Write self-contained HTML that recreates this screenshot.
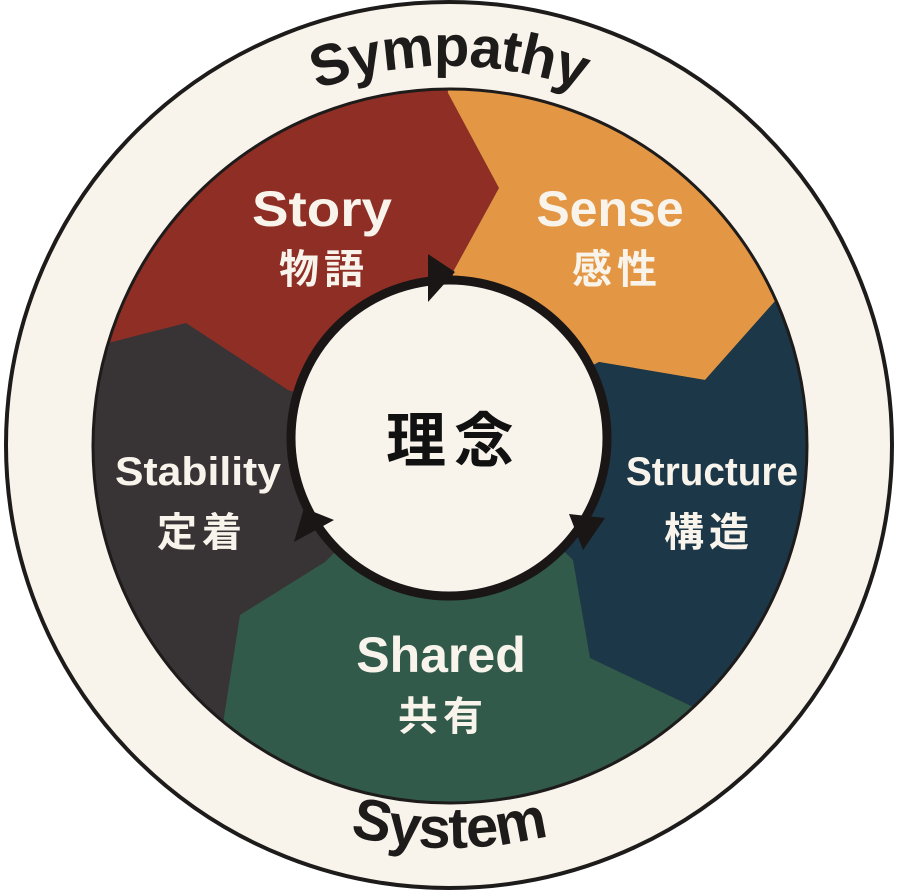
<!DOCTYPE html>
<html><head><meta charset="utf-8"><style>
html,body{margin:0;padding:0;background:#fff;}
svg{display:block;}
</style></head><body>
<svg width="899" height="891" viewBox="0 0 899 891" xmlns="http://www.w3.org/2000/svg">
<defs>
<clipPath id="disk"><circle cx="450" cy="446" r="357"/></clipPath>
<path id="topArc" d="M 69 446 A 380 380 0 0 1 829 446"/>
<path id="botArc" d="M 47 446 A 402 402 0 0 0 851 446"/>
</defs>
<circle cx="449" cy="445" r="443" fill="#f8f4ec" stroke="#1e1b1b" stroke-width="4"/>
<g clip-path="url(#disk)">
<rect x="0" y="0" width="899" height="891" fill="#383335"/>
<polygon fill="#8f2e25" points="450,440 453,272 499,188 448,93 440,-10 -10,-10 -10,365 108,343 186,323 288,390"/>
<polygon fill="#e39745" points="450,440 453,272 499,188 448,93 440,-10 910,-10 910,200 776,300 705,380 599,362"/>
<polygon fill="#1b3748" points="450,440 599,362 705,380 776,300 910,200 910,800 800,760 689,705 590,658 573,560"/>
<polygon fill="#325a4a" points="450,440 573,560 590,658 689,705 800,760 910,800 910,900 -10,900 -10,900 212,900 224,717 240,615 325,562"/>
</g>
<circle cx="450" cy="446" r="357" fill="none" stroke="#1e1b1b" stroke-width="3"/>
<circle cx="449" cy="438" r="158" fill="#f8f4ec" stroke="#1a1616" stroke-width="9"/>
<polygon fill="#1a1616" points="428,254 455,272 428,302"/>
<polygon fill="#1a1616" points="605,518 583,550 569,514"/>
<polygon fill="#1a1616" points="294,542 334,520 304,508"/>
<g font-family="'Liberation Sans','Noto Sans CJK JP',sans-serif" font-weight="bold" text-anchor="middle">
<text font-size="58" fill="#1e1b1b" letter-spacing="-1"><textPath href="#topArc" startOffset="50%">Sympathy</textPath></text>
<text font-size="58" fill="#1e1b1b" letter-spacing="-1"><textPath href="#botArc" startOffset="50%">System</textPath></text>
<g fill="#f8f4ec">
<text x="322" y="226" font-size="50" textLength="140" lengthAdjust="spacingAndGlyphs">Story</text>
<text x="324" y="283" font-size="40" letter-spacing="5">物語</text>
<text x="610" y="226" font-size="50">Sense</text>
<text x="617" y="283" font-size="40" letter-spacing="5">感性</text>
<text x="198" y="485" font-size="40" textLength="166" lengthAdjust="spacingAndGlyphs">Stability</text>
<text x="202" y="546" font-size="40" letter-spacing="5">定着</text>
<text x="712" y="485" font-size="40" textLength="172" lengthAdjust="spacingAndGlyphs">Structure</text>
<text x="709" y="546" font-size="40" letter-spacing="5">構造</text>
<text x="441" y="672" font-size="50">Shared</text>
<text x="443" y="730" font-size="40" letter-spacing="5">共有</text>
</g>
<text x="454" y="462" font-size="60" fill="#111" letter-spacing="8">理念</text>
</g>
</svg>
</body></html>
